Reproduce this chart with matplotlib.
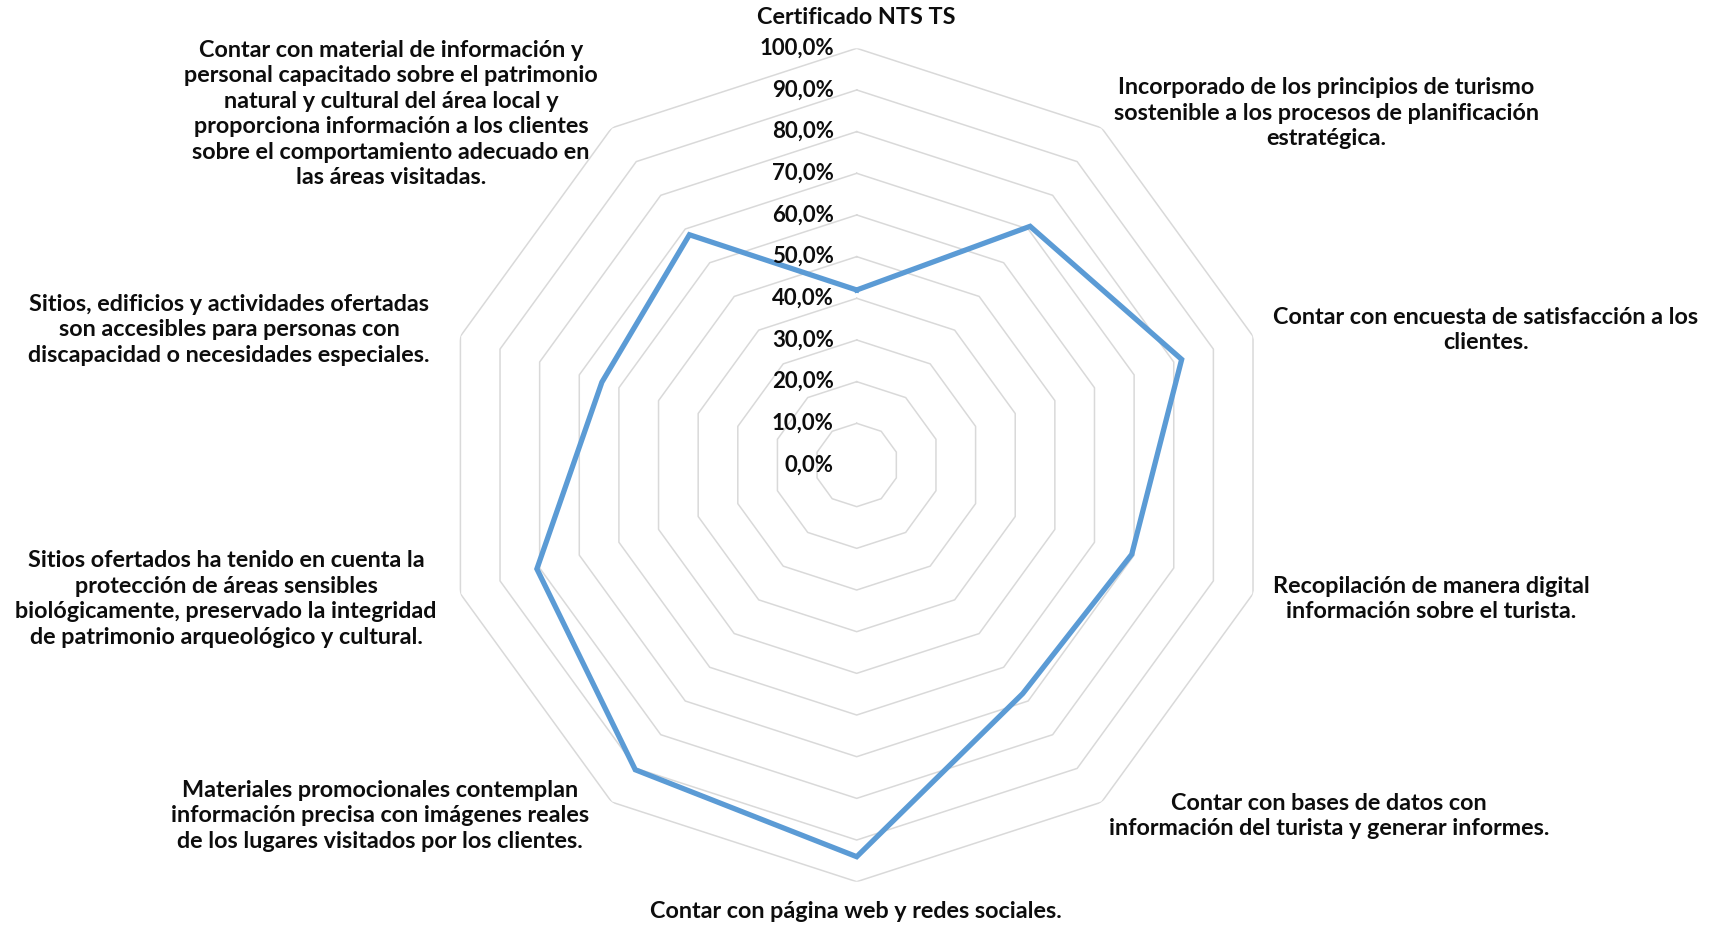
import numpy as np
import matplotlib.pyplot as plt

plt.rcParams["font.family"] = ["Lato", "DejaVu Sans"]

categories = [
    "Certificado NTS TS",
    "Incorporado de los principios de turismo\nsostenible a los procesos de planificación\nestratégica.",
    "Contar con encuesta de satisfacción a los\nclientes.",
    "Recopilación de manera digital\ninformación sobre el turista.",
    "Contar con bases de datos con\ninformación del turista y generar informes.",
    "Contar con página web y redes sociales.",
    "Materiales promocionales contemplan\ninformación precisa con imágenes reales\nde los lugares visitados por los clientes.",
    "Sitios ofertados ha tenido en cuenta la\nprotección de áreas sensibles\nbiológicamente, preservado la integridad\nde patrimonio arqueológico y cultural.",
    "Sitios, edificios y actividades ofertadas\nson accesibles para personas con\ndiscapacidad o necesidades especiales.",
    "Contar con material de información y\npersonal capacitado sobre el patrimonio\nnatural y cultural del área local y\nproporciona información a los clientes\nsobre el comportamiento adecuado en\nlas áreas visitadas.",
]
values = [42.0, 70.8, 82.0, 69.4, 67.8, 94.0, 90.4, 80.7, 64.3, 68.3]
rings = [10, 20, 30, 40, 50, 60, 70, 80, 90, 100]
tick_vals = [0, 10, 20, 30, 40, 50, 60, 70, 80, 90, 100]

# label centres in figure pixels (x from left, y from top)
label_pos = [(856, 17), (1326, 113), (1486, 330), (1431, 599), (1329, 816),
             (856, 912), (380, 816), (226, 599), (229, 330), (391, 114)]

W, H = 1726, 927
fig = plt.figure(figsize=(W / 100, H / 100), dpi=100)
cx, cy, R = 856.7, 465.0, 416.7
ax = fig.add_axes([(cx - R) / W, (H - cy - R) / H, 2 * R / W, 2 * R / H], projection="polar")
ax.set_theta_zero_location("N")
ax.set_theta_direction(-1)
ax.set_ylim(0, 100)
ax.grid(False)
ax.spines["polar"].set_visible(False)
ax.set_xticks([]); ax.set_yticks([])
ax.patch.set_alpha(0)

n = len(categories)
theta = np.arange(n) * 2 * np.pi / n
th_closed = np.append(theta, theta[0])

for r in rings:
    ax.plot(th_closed, [r] * (n + 1), color="#d9d9d9", lw=1.1, zorder=1)

ax.plot(th_closed, values + values[:1], color="#5b9bd5", lw=3.8, zorder=3,
        solid_joinstyle="miter")

for v in tick_vals:
    ax.annotate(f"{v:.1f}%".replace(".", ","), (0, v), xytext=(-16.5, 0),
                textcoords="offset points", ha="right", va="center",
                fontsize=16, fontweight="bold", color="#0d0d0d", zorder=4)

for lab, (px, py) in zip(categories, label_pos):
    fig.text(px / W, 1 - py / H, lab, ha="center", va="center", multialignment="center",
             fontsize=16.8, fontweight="bold", color="#0d0d0d", linespacing=1.27)

fig.savefig("out.png", dpi=100, facecolor="white")
